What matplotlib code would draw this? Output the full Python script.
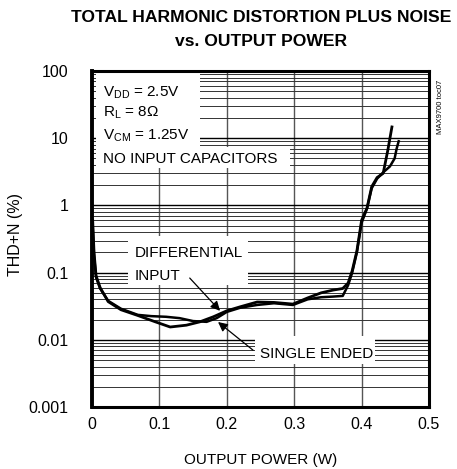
import numpy as np
import matplotlib
matplotlib.use("Agg")
import matplotlib.pyplot as plt
from matplotlib.patches import Rectangle

plt.rcParams['font.family'] = ['Liberation Sans', 'DejaVu Sans']
plt.rcParams['mathtext.fontset'] = 'custom'
plt.rcParams['mathtext.rm'] = 'Liberation Sans'
plt.rcParams['mathtext.it'] = 'Liberation Sans:italic'
plt.rcParams['mathtext.bf'] = 'Liberation Sans:bold'

# -------------------------
#  Data
# -------------------------

# differential input (dips lower around 0.12 W)
p_diff = [0.001, 0.003, 0.006, 0.012, 0.024, 0.043, 0.068, 0.094, 0.116, 0.14,
          0.16, 0.18, 0.2, 0.22, 0.245, 0.27, 0.298, 0.32, 0.34, 0.358, 0.372,
          0.38, 0.386, 0.393, 0.40, 0.408, 0.415, 0.423, 0.432, 0.439, 0.445]
thd_diff = [0.6, 0.2, 0.09, 0.06, 0.037, 0.028, 0.023, 0.0185, 0.0155, 0.0165,
            0.0185, 0.022, 0.027, 0.031, 0.0365, 0.036, 0.034, 0.042, 0.05, 0.055, 0.058,
            0.07, 0.106, 0.21, 0.6, 0.91, 1.9, 2.6, 3.0, 6.7, 14.7]

# single ended
p_se = [0.001, 0.003, 0.006, 0.012, 0.024, 0.043, 0.068, 0.088, 0.11, 0.13,
        0.15, 0.17, 0.185, 0.2, 0.22, 0.245, 0.27, 0.298, 0.32, 0.34, 0.358,
        0.372, 0.38, 0.386, 0.393, 0.40, 0.408, 0.415, 0.423, 0.432, 0.442,
        0.449, 0.452, 0.455]
thd_se = [0.5, 0.18, 0.085, 0.058, 0.038, 0.029, 0.0235, 0.0225, 0.022, 0.021,
          0.019, 0.0185, 0.021, 0.026, 0.03, 0.033, 0.035, 0.033, 0.04, 0.043, 0.044,
          0.045, 0.065, 0.1, 0.2, 0.55, 0.9, 1.8, 2.5, 3.1, 3.8,
          5.0, 7.0, 9.0]

x_ticks = [0, 0.1, 0.2, 0.3, 0.4, 0.5]
x_labels = ['0', '0.1', '0.2', '0.3', '0.4', '0.5']
y_ticks = [0.001, 0.01, 0.1, 1, 10, 100]
y_labels = ['0.001', '0.01', '0.1', '1', '10', '100']


# ----------------
#  Figure layout
# ----------------

W, H = 457, 469
fig = plt.figure(figsize=(W / 100, H / 100), dpi=100)

L, R, T, B = 92, 429, 71, 407
ax = fig.add_axes([L / W, 1 - B / H, (R - L) / W, (B - T) / H])


def axx(px):
    return (px - L) / (R - L)


def axy(py):
    return (B - py) / (B - T)


ax.set_yscale('log')
ax.set_xlim(0, 0.5)
ax.set_ylim(0.001, 100)

ax.set_xticks(x_ticks)
ax.set_xticklabels(x_labels, fontsize=11.5)
ax.set_yticks(y_ticks)
ax.set_yticklabels(y_labels, fontsize=11.5)
minor = [m * d for d in [0.001, 0.01, 0.1, 1, 10] for m in range(2, 10)]
ax.set_yticks(minor, minor=True)
ax.set_yticklabels([], minor=True)
ax.tick_params(axis='both', which='both', length=0)
ax.tick_params(axis='y', pad=17)
ax.tick_params(axis='x', pad=7)

ax.set_axisbelow(True)
ax.grid(True, axis='x', which='major', color='#555555', lw=1.0)
ax.grid(True, axis='y', which='major', color='black', lw=1.0)
ax.grid(True, axis='y', which='minor', color='#333333', lw=0.7)

for s in ax.spines.values():
    s.set_linewidth(2.2)
ax.spines['left'].set_linewidth(2.8)

# white areas behind the labels
for x0, y0, x1, y1 in [(96, 73, 200, 147), (96, 147, 290, 168),
                       (128, 236, 248, 285), (255, 336, 375, 364)]:
    ax.add_patch(Rectangle((axx(x0), axy(y1)), axx(x1) - axx(x0), axy(y0) - axy(y1),
                           transform=ax.transAxes, fc='white', ec='none', zorder=2))

# ---------
#  Curves
# ---------

ax.plot(p_diff, thd_diff, color='black', lw=2.0, zorder=4)
ax.plot(p_se, thd_se, color='black', lw=1.8, zorder=4)

# ---------
#  Labels
# ---------

fs = 11
ax.text(axx(103), axy(97), r'V$_{\rm DD}$ = 2.5V', transform=ax.transAxes,
        fontsize=fs, va='baseline', zorder=3)
ax.text(axx(103), axy(117), r'R$_{\rm L}$ = 8Ω', transform=ax.transAxes,
        fontsize=fs, va='baseline', zorder=3)
ax.text(axx(103), axy(140), r'V$_{\rm CM}$ = 1.25V', transform=ax.transAxes,
        fontsize=fs, va='baseline', zorder=3)
ax.text(axx(103), axy(163), 'NO INPUT CAPACITORS', transform=ax.transAxes,
        fontsize=fs, va='baseline', zorder=3)
ax.text(axx(135), axy(257), 'DIFFERENTIAL', transform=ax.transAxes,
        fontsize=fs, va='baseline', zorder=3)
ax.text(axx(135), axy(280), 'INPUT', transform=ax.transAxes,
        fontsize=fs, va='baseline', zorder=3)
ax.text(axx(260), axy(358), 'SINGLE ENDED', transform=ax.transAxes,
        fontsize=fs, va='baseline', zorder=3)

arrow = dict(arrowstyle='-|>', color='black', lw=0.9, mutation_scale=14,
             shrinkA=0, shrinkB=0)
ax.annotate('', xy=(0.19, 0.027), xytext=(0.145, 0.083), arrowprops=arrow, zorder=5)
ax.annotate('', xy=(0.187, 0.0184), xytext=(0.239, 0.0070), arrowprops=arrow, zorder=5)

fig.text(441 / W, 1 - 107 / H, 'MAX9700 toc07', rotation=90, fontsize=5.5,
         ha='center', va='center')

fig.text(261 / W, 1 - 18 / H, 'TOTAL HARMONIC DISTORTION PLUS NOISE',
         fontsize=12.6, fontweight='bold', ha='center', va='center')
fig.text(261 / W, 1 - 42 / H, 'vs. OUTPUT POWER',
         fontsize=12.6, fontweight='bold', ha='center', va='center')

fig.text(261 / W, 1 - 460 / H, 'OUTPUT POWER (W)', fontsize=11,
         ha='center', va='center')
fig.text(16 / W, 1 - 235 / H, 'THD+N (%)', fontsize=11.5, rotation=90,
         ha='center', va='center')

fig.savefig('out.png', dpi=100)
